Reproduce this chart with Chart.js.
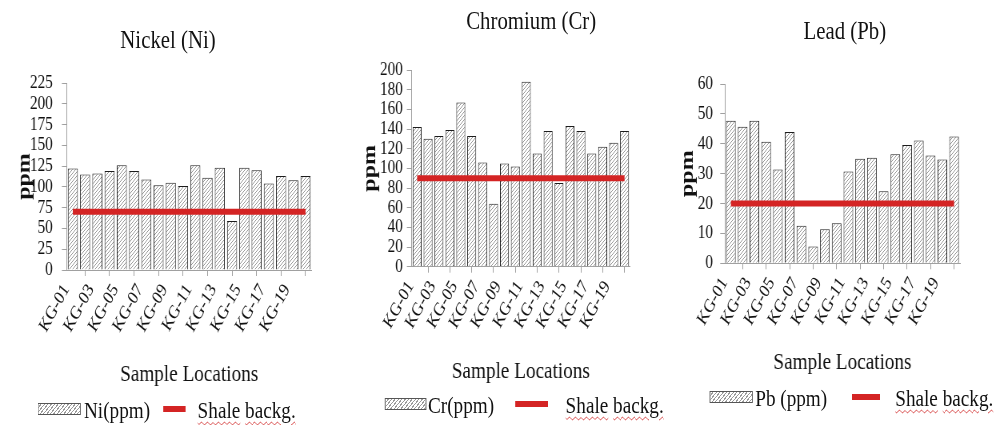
<!DOCTYPE html>
<html>
<head>
<meta charset="utf-8">
<script src="https://cdn.jsdelivr.net/npm/chart.js@4.4.1/dist/chart.umd.min.js"></script>
<style>
  html, body { margin: 0; padding: 0; background: #fff; overflow: hidden; }
  /* the whole figure is laid out wide, then squeezed to the narrow serif look */
  #stage { position: absolute; left: 0; top: 0; width: 1246px; height: 425px;
           transform: scaleX(0.8); transform-origin: 0 0;
           font-family: "Liberation Serif", "Times New Roman", Times, "DejaVu Serif", serif; color: #111; }
  #stage canvas { position: absolute; top: 0; }
  .title { position: absolute; font-size: 26px; white-space: nowrap; transform: translate(-50%, -50%); }
  .lg { position: absolute; font-size: 24px; white-space: nowrap; line-height: 24px; transform: translateY(-50%); }
  .swatch { position: absolute; height: 10px; border: 1px solid #555; transform: translateY(-50%);
            background: repeating-linear-gradient(135deg, #fff 0 2px, #9a9a9a 2px 3px); }
  .dash { position: absolute; height: 6px; background: #d42424; transform: translateY(-50%); }
  .sq { text-decoration: underline wavy #d43a3a; text-decoration-thickness: 1px; text-underline-offset: 3px; }
</style>
</head>
<body>
<div id="stage">
  <canvas id="niChart" width="420" height="425" style="left:0"></canvas>
  <canvas id="crChart" width="420" height="425" style="left:420px"></canvas>
  <canvas id="pbChart" width="406" height="425" style="left:840px"></canvas>

  <div class="title" style="left:210px; top:40px">Nickel (Ni)</div>
  <div class="title" style="left:664px; top:21px">Chromium (Cr)</div>
  <div class="title" style="left:1056px; top:31px">Lead (Pb)</div>

  <div class="swatch" style="left:47px; top:409px; width:52px"></div>
  <div class="lg" style="left:105px; top:410px">Ni(ppm)</div>
  <div class="dash" style="left:204px; top:409px; width:28px"></div>
  <div class="lg" style="left:247px; top:410px"><span class="sq">Shale</span> <span class="sq">backg.</span></div>

  <div class="swatch" style="left:481px; top:404px; width:50px"></div>
  <div class="lg" style="left:535px; top:405px">Cr(ppm)</div>
  <div class="dash" style="left:644px; top:404px; width:41px"></div>
  <div class="lg" style="left:707px; top:405px"><span class="sq">Shale</span> <span class="sq">backg.</span></div>

  <div class="swatch" style="left:887px; top:397px; width:52px"></div>
  <div class="lg" style="left:944px; top:398px">Pb (ppm)</div>
  <div class="dash" style="left:1065px; top:397px; width:35px"></div>
  <div class="lg" style="left:1119px; top:398px"><span class="sq">Shale</span> <span class="sq">backg.</span></div>
</div>

<script>
const sampleIds = ["KG-01", "KG-02", "KG-03", "KG-04", "KG-05", "KG-06", "KG-07", "KG-08", "KG-09", "KG-10",
                   "KG-11", "KG-12", "KG-13", "KG-14", "KG-15", "KG-16", "KG-17", "KG-18", "KG-19", "KG-20"];

const nickel = [122, 115, 116, 119, 126, 119, 109, 102, 105, 101, 126, 111, 123, 59, 123, 120, 104, 113, 108, 113];
const chromium = [142, 130, 133, 139, 167, 133, 106, 64, 105, 102, 188, 115, 138, 85, 143, 138, 115, 122, 126, 138];
const lead = [47.7, 45.7, 47.7, 40.7, 31.4, 43.9, 12.6, 5.6, 11.4, 13.4, 30.7, 35.0, 35.3, 24.1, 36.5, 39.6, 41.1, 36.1, 34.7, 42.4];

// shale background levels (ppm)
const nickelShale = 70;
const chromiumShale = 90;
const leadShale = 20;

const FONT = "'Liberation Serif', 'Times New Roman', Times, 'DejaVu Serif', serif";

// diagonal hatch used to fill the bars
function makeHatch() {
  const c = document.createElement("canvas");
  c.width = 4; c.height = 4;
  const g = c.getContext("2d");
  g.fillStyle = "#fff";
  g.fillRect(0, 0, 4, 4);
  g.strokeStyle = "#959595";
  g.lineWidth = 1;
  g.beginPath();
  g.moveTo(0, 4); g.lineTo(4, 0);
  g.moveTo(-1, 1); g.lineTo(1, -1);
  g.moveTo(3, 5); g.lineTo(5, 3);
  g.stroke();
  return g.createPattern(c, "repeat");
}
const hatch = makeHatch();

function renderPanel(p) {
  const ctx = document.getElementById(p.id).getContext("2d");

  return new Chart(ctx, {
    data: {
      labels: sampleIds,
      datasets: [
        {
          type: "line",
          label: "Shale backg.",
          data: sampleIds.map(() => p.shale),
          borderColor: "#d42424",
          borderWidth: 6,
          pointRadius: 0,
          order: 1,
        },
        {
          type: "bar",
          label: p.series,
          data: p.values,
          backgroundColor: hatch,
          borderColor: "#1c1c1c",
          borderWidth: 1,
          barPercentage: 0.82,
          categoryPercentage: 1,
          order: 2,
        },
      ],
    },
    options: {
      responsive: false,
      animation: false,
      layout: { padding: { top: p.top, right: p.right, left: 0, bottom: 0 } },
      plugins: {
        legend: { display: false },
        tooltip: { enabled: false },
      },
      scales: {
        x: {
          offset: true,
          grid: { offset: true, drawOnChartArea: false, tickLength: 6, color: "#a0a0a0" },
          border: { color: "#a0a0a0" },
          ticks: {
            autoSkip: false,
            minRotation: 56,
            maxRotation: 56,
            padding: 4,
            labelOffset: -8,
            color: "#111",
            font: { family: FONT, size: 19 },
            callback: (v, i) => (i % 2 === 0 ? sampleIds[i] : null),
          },
          title: {
            display: true,
            text: "Sample Locations",
            color: "#111",
            font: { family: FONT, size: 24 },
            padding: { top: 0, bottom: p.xTitlePad },
          },
          afterFit: (s) => { s.height = 425 - p.bottom; },
        },
        y: {
          min: 0,
          max: p.max,
          grid: { drawOnChartArea: false, tickLength: 6, color: "#a0a0a0" },
          border: { color: "#a0a0a0" },
          ticks: {
            autoSkip: false,
            stepSize: p.step,
            padding: p.tickPad,
            color: "#111",
            font: { family: FONT, size: 19 },
          },
          title: {
            display: true,
            text: "ppm",
            color: "#111",
            font: { family: FONT, size: 24, weight: "bold" },
            padding: { top: p.yTitlePad, bottom: 0 },
          },
          afterFit: (s) => { s.width = p.left; },
        },
      },
    },
  });
}

renderPanel({ id: "niChart", series: "Ni(ppm)", values: nickel, shale: nickelShale, max: 225, step: 25,
              left: 83.4, right: 30.4, top: 83, bottom: 270, yTitlePad: 16.6, xTitlePad: 36, tickPad: 11.5 });
renderPanel({ id: "crChart", series: "Cr(ppm)", values: chromium, shale: chromiumShale, max: 200, step: 20,
              left: 94.6, right: 52.5, top: 70, bottom: 266.7, yTitlePad: 28, xTitlePad: 39, tickPad: 5 });
renderPanel({ id: "pbChart", series: "Pb (ppm)", values: lead, shale: leadShale, max: 60, step: 10,
              left: 66.3, right: 46, top: 84, bottom: 263.3, yTitlePad: 5.6, xTitlePad: 48, tickPad: 9 });
</script>
</body>
</html>
